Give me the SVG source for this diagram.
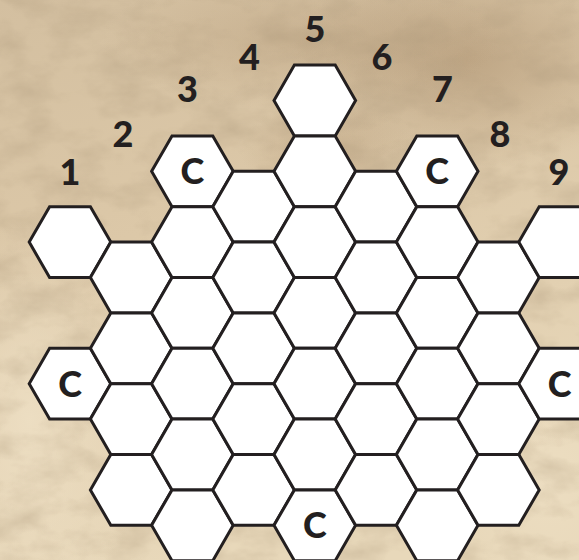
<svg xmlns="http://www.w3.org/2000/svg" xmlns:xlink="http://www.w3.org/1999/xlink" width="579" height="560" viewBox="0 0 579 560">
<style>
.hex{fill:#ffffff;stroke:#231f20;stroke-width:3;stroke-linejoin:miter}
.num{font-family:Lato,"Open Sans","Liberation Sans",sans-serif;font-weight:900;font-size:36px;fill:#231f20;text-anchor:middle}
.lab{font-family:Lato,"Open Sans","Liberation Sans",sans-serif;font-weight:900;font-size:36px;fill:#231f20;text-anchor:middle}
</style>
<defs>
<polygon id="hx" class="hex" points="40.8,0 20.4,35.4 -20.4,35.4 -40.8,0 -20.4,-35.4 20.4,-35.4"/>
<linearGradient id="bg" x1="0" y1="0" x2="0.3" y2="1">
<stop offset="0" stop-color="#d3bfa0"/>
<stop offset="0.45" stop-color="#dcc8a8"/>
<stop offset="1" stop-color="#e8d8ba"/>
</linearGradient>
<radialGradient id="dk1" cx="0.5" cy="0.5" r="0.5">
<stop offset="0" stop-color="#a88c6a" stop-opacity="0.55"/>
<stop offset="1" stop-color="#a88c6a" stop-opacity="0"/>
</radialGradient>
<radialGradient id="lt1" cx="0.5" cy="0.5" r="0.5">
<stop offset="0" stop-color="#efe1c6" stop-opacity="0.8"/>
<stop offset="1" stop-color="#efe1c6" stop-opacity="0"/>
</radialGradient>
<filter id="grain" x="0" y="0" width="100%" height="100%">
<feTurbulence type="fractalNoise" baseFrequency="0.02 0.035" numOctaves="4" seed="7"/>
<feColorMatrix type="matrix" values="0 0 0 0 0.42  0 0 0 0 0.32  0 0 0 0 0.2  0 0 0 1.3 -0.5"/>
</filter>
</defs>

<g id="background">
<rect width="579" height="560" fill="url(#bg)"/>
<ellipse cx="470" cy="60" rx="180" ry="110" fill="url(#dk1)"/>
<ellipse cx="300" cy="40" rx="200" ry="70" fill="url(#dk1)" opacity="0.6"/>
<ellipse cx="330" cy="150" rx="90" ry="50" fill="url(#dk1)" opacity="0.7"/>
<ellipse cx="30" cy="420" rx="120" ry="200" fill="url(#lt1)"/>
<ellipse cx="550" cy="480" rx="90" ry="120" fill="url(#lt1)" opacity="0.7"/>
<rect width="579" height="560" filter="url(#grain)" opacity="0.55"/>
</g>

<g id="column-labels">
<text class="num" x="70" y="185">1</text>
<text class="num" x="123" y="147">2</text>
<text class="num" x="187.5" y="101.5">3</text>
<text class="num" x="249.5" y="70">4</text>
<text class="num" x="315" y="41.5">5</text>
<text class="num" x="382" y="70">6</text>
<text class="num" x="442.5" y="101.5">7</text>
<text class="num" x="500" y="146.5">8</text>
<text class="num" x="559" y="185">9</text>
</g>

<g id="connectors"></g>

<g id="col1">
<g id="h1-2" transform="translate(70,242.1)"><use xlink:href="#hx"/></g>
<g id="h1-4" transform="translate(70,383.7)"><use xlink:href="#hx"/><text class="lab" y="13">C</text></g>
</g>
<g id="col2">
<g id="h2-2" transform="translate(131.2,277.5)"><use xlink:href="#hx"/></g>
<g id="h2-3" transform="translate(131.2,348.3)"><use xlink:href="#hx"/></g>
<g id="h2-4" transform="translate(131.2,419.1)"><use xlink:href="#hx"/></g>
<g id="h2-5" transform="translate(131.2,489.9)"><use xlink:href="#hx"/></g>
</g>
<g id="col3">
<g id="h3-1" transform="translate(192.4,171.3)"><use xlink:href="#hx"/><text class="lab" y="13">C</text></g>
<g id="h3-2" transform="translate(192.4,242.1)"><use xlink:href="#hx"/></g>
<g id="h3-3" transform="translate(192.4,312.9)"><use xlink:href="#hx"/></g>
<g id="h3-4" transform="translate(192.4,383.7)"><use xlink:href="#hx"/></g>
<g id="h3-5" transform="translate(192.4,454.5)"><use xlink:href="#hx"/></g>
<g id="h3-6" transform="translate(192.4,525.3)"><use xlink:href="#hx"/></g>
</g>
<g id="col4">
<g id="h4-1" transform="translate(253.6,206.7)"><use xlink:href="#hx"/></g>
<g id="h4-2" transform="translate(253.6,277.5)"><use xlink:href="#hx"/></g>
<g id="h4-3" transform="translate(253.6,348.3)"><use xlink:href="#hx"/></g>
<g id="h4-4" transform="translate(253.6,419.1)"><use xlink:href="#hx"/></g>
<g id="h4-5" transform="translate(253.6,489.9)"><use xlink:href="#hx"/></g>
</g>
<g id="col5">
<g id="h5-0" transform="translate(314.8,100.5)"><use xlink:href="#hx"/></g>
<g id="h5-1" transform="translate(314.8,171.3)"><use xlink:href="#hx"/></g>
<g id="h5-2" transform="translate(314.8,242.1)"><use xlink:href="#hx"/></g>
<g id="h5-3" transform="translate(314.8,312.9)"><use xlink:href="#hx"/></g>
<g id="h5-4" transform="translate(314.8,383.7)"><use xlink:href="#hx"/></g>
<g id="h5-5" transform="translate(314.8,454.5)"><use xlink:href="#hx"/></g>
<g id="h5-6" transform="translate(314.8,525.3)"><use xlink:href="#hx"/><text class="lab" y="13">C</text></g>
</g>
<g id="col6">
<g id="h6-1" transform="translate(376,206.7)"><use xlink:href="#hx"/></g>
<g id="h6-2" transform="translate(376,277.5)"><use xlink:href="#hx"/></g>
<g id="h6-3" transform="translate(376,348.3)"><use xlink:href="#hx"/></g>
<g id="h6-4" transform="translate(376,419.1)"><use xlink:href="#hx"/></g>
<g id="h6-5" transform="translate(376,489.9)"><use xlink:href="#hx"/></g>
</g>
<g id="col7">
<g id="h7-1" transform="translate(437.2,171.3)"><use xlink:href="#hx"/><text class="lab" y="13">C</text></g>
<g id="h7-2" transform="translate(437.2,242.1)"><use xlink:href="#hx"/></g>
<g id="h7-3" transform="translate(437.2,312.9)"><use xlink:href="#hx"/></g>
<g id="h7-4" transform="translate(437.2,383.7)"><use xlink:href="#hx"/></g>
<g id="h7-5" transform="translate(437.2,454.5)"><use xlink:href="#hx"/></g>
<g id="h7-6" transform="translate(437.2,525.3)"><use xlink:href="#hx"/></g>
</g>
<g id="col8">
<g id="h8-2" transform="translate(498.4,277.5)"><use xlink:href="#hx"/></g>
<g id="h8-3" transform="translate(498.4,348.3)"><use xlink:href="#hx"/></g>
<g id="h8-4" transform="translate(498.4,419.1)"><use xlink:href="#hx"/></g>
<g id="h8-5" transform="translate(498.4,489.9)"><use xlink:href="#hx"/></g>
</g>
<g id="col9">
<g id="h9-2" transform="translate(559.6,242.1)"><use xlink:href="#hx"/></g>
<g id="h9-4" transform="translate(559.6,383.7)"><use xlink:href="#hx"/><text class="lab" y="13">C</text></g>
</g>
</svg>
